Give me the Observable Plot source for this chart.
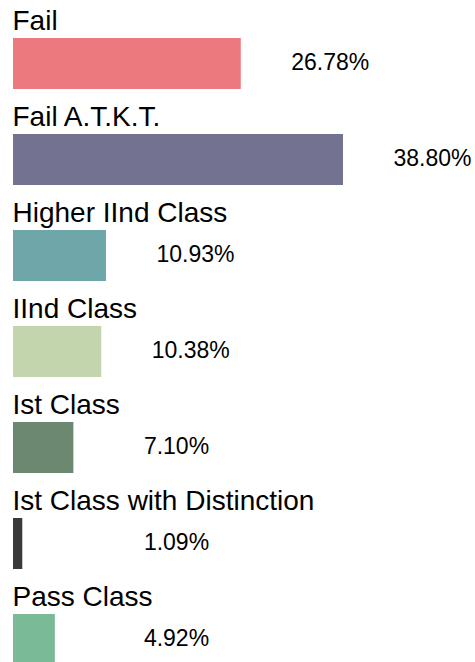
<!DOCTYPE html>
<html>
<head>
<meta charset="utf-8">
<script src="https://cdn.jsdelivr.net/npm/d3@7"></script>
<script src="https://cdn.jsdelivr.net/npm/@observablehq/plot@0.6"></script>
<style>
  html, body { margin: 0; padding: 0; background: #fff; }
  #chart svg { display: block; }
</style>
</head>
<body>
<div id="chart"></div>
<script>
const categories = ["Fail", "Fail A.T.K.T.", "Higher IInd Class", "IInd Class", "Ist Class", "Ist Class with Distinction", "Pass Class"];
const values = [26.78, 38.80, 10.93, 10.38, 7.10, 1.09, 4.92];
const labels = ["26.78%", "38.80%", "10.93%", "10.38%", "7.10%", "1.09%", "4.92%"];
const colors = ["#EB797E", "#737290", "#6FA6A9", "#C3D5AC", "#6C8871", "#3A3A3A", "#7BBA96"];

const data = categories.map((c, i) => ({category: c, value: values[i], label: labels[i]}));

const chart = Plot.plot({
  width: 475,
  height: 662,
  marginTop: 0, marginRight: 0, marginBottom: 0, marginLeft: 0,
  style: {fontFamily: "'Liberation Sans', Arial, sans-serif", background: "#fff"},
  x: {domain: [0, 38.8], range: [13, 343], axis: null},
  y: {type: "band", domain: categories, range: [38, 665], paddingInner: 0.46875, paddingOuter: 0, align: 0, axis: null},
  color: {domain: categories, range: colors},
  marks: [
    Plot.barX(data, {x: "value", y: "category", fill: "category"}),
    Plot.text(data, {x: 0, y: "category", text: "category", textAnchor: "start", lineAnchor: "bottom", dy: -34.5, dx: -1, fontSize: 28, fill: "#000"}),
    Plot.text(data, {x: d => Math.max(d.value, 8.7), y: "category", text: "label", textAnchor: "middle", lineAnchor: "middle", dx: 89, dy: -1, fontSize: 23, fill: "#000"})
  ]
});
document.getElementById("chart").appendChild(chart);
</script>
</body>
</html>
